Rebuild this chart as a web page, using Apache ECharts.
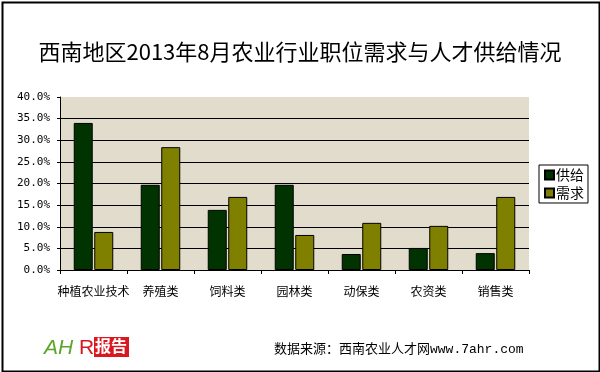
<!DOCTYPE html>
<html><head><meta charset="utf-8">
<script src="https://cdn.jsdelivr.net/npm/echarts@6/dist/echarts.min.js"></script>
<style>html,body{margin:0;padding:0;background:#fff}#c{width:600px;height:372px}</style>
</head><body><div id="c"></div>
<script>
const categories = ['种植农业技术','养殖类','饲料类','园林类','动保类','农资类','销售类'];
const supply = [34.0, 19.7, 13.9, 19.7, 3.7, 5.1, 3.9];
const demand = [8.8, 28.4, 16.9, 8.1, 10.9, 10.2, 16.9];
const seriesNames = ['供给','需求'];
const titleText = '西南地区2013年8月农业行业职位需求与人才供给情况';
const sourceText = '数据来源：西南农业人才网www.7ahr.com';

const chart = echarts.init(document.getElementById('c'));
const cjk = '"Noto Sans CJK SC", sans-serif';
chart.setOption({
  backgroundColor: '#fff',
  animation: false,
  title: {
    text: titleText, left: 'center', top: 36,
    textStyle: {fontFamily: cjk, fontSize: 22, fontWeight: 'normal', color: '#000'}
  },
  grid: {left: 60, right: 71, top: 97, bottom: 102, show: true, backgroundColor: '#e2dccd', borderWidth: 0},
  legend: {
    orient: 'vertical', left: 539, top: 165,
    data: seriesNames, icon: 'rect', itemWidth: 9, itemHeight: 9, itemGap: 4,
    borderColor: '#000', borderWidth: 1, padding: [3, 4, 3, 5], borderRadius: 0,
    textStyle: {fontFamily: cjk, fontSize: 14, color: '#000', padding: [0, 0, 0, -3]}
  },
  xAxis: {
    type: 'category', data: categories,
    axisLine: {lineStyle: {color: '#000', width: 1}},
    axisTick: {show: true, length: 4, lineStyle: {color: '#000'}},
    axisLabel: {fontFamily: cjk, fontSize: 12, color: '#000', margin: 15, interval: 0}
  },
  yAxis: {
    type: 'value', min: 0, max: 40, interval: 5,
    axisLine: {show: true, lineStyle: {color: '#000'}},
    axisTick: {show: true, length: 3, lineStyle: {color: '#000'}},
    axisLabel: {formatter: v => v.toFixed(1) + '%', fontFamily: '"DejaVu Sans Mono", monospace', fontSize: 11, color: '#000', margin: 10},
    splitLine: {show: true, lineStyle: {color: ['#000','#000','#000','#000','#000','#000','#000','#000','rgba(0,0,0,0)'], width: 1}}
  },
  series: [
    {name: seriesNames[0], type: 'bar', data: supply, barWidth: 19, barGap: '8%',
     itemStyle: {color: '#003300', borderColor: '#000', borderWidth: 1}},
    {name: seriesNames[1], type: 'bar', data: demand, barWidth: 19,
     itemStyle: {color: '#808000', borderColor: '#000', borderWidth: 1}}
  ],
  graphic: [
    {type: 'rect', left: 0, top: 0, shape: {x: 1, y: 1, width: 597, height: 369}, style: {fill: 'none', stroke: '#000', lineWidth: 2}, silent: true},
    {type: 'text', left: 274, top: 343, style: {text: sourceText, font: '13px "Liberation Mono", "Noto Sans CJK SC", monospace', fill: '#000'}},
    {type: 'text', left: 44, top: 338, style: {text: 'AH', font: 'italic 21px "Liberation Sans", sans-serif', fill: '#5aa52a'}},
    {type: 'text', left: 79, top: 338, style: {text: 'R', font: '21px "Liberation Sans", sans-serif', fill: '#d9181f'}},
    {type: 'rect', left: 94, top: 337, shape: {width: 35, height: 20}, style: {fill: '#d9181f'}},
    {type: 'text', left: 95, top: 338, style: {text: '报告', font: 'bold 16px "Noto Sans CJK SC", sans-serif', fill: '#fff'}}
  ]
});
</script></body></html>
